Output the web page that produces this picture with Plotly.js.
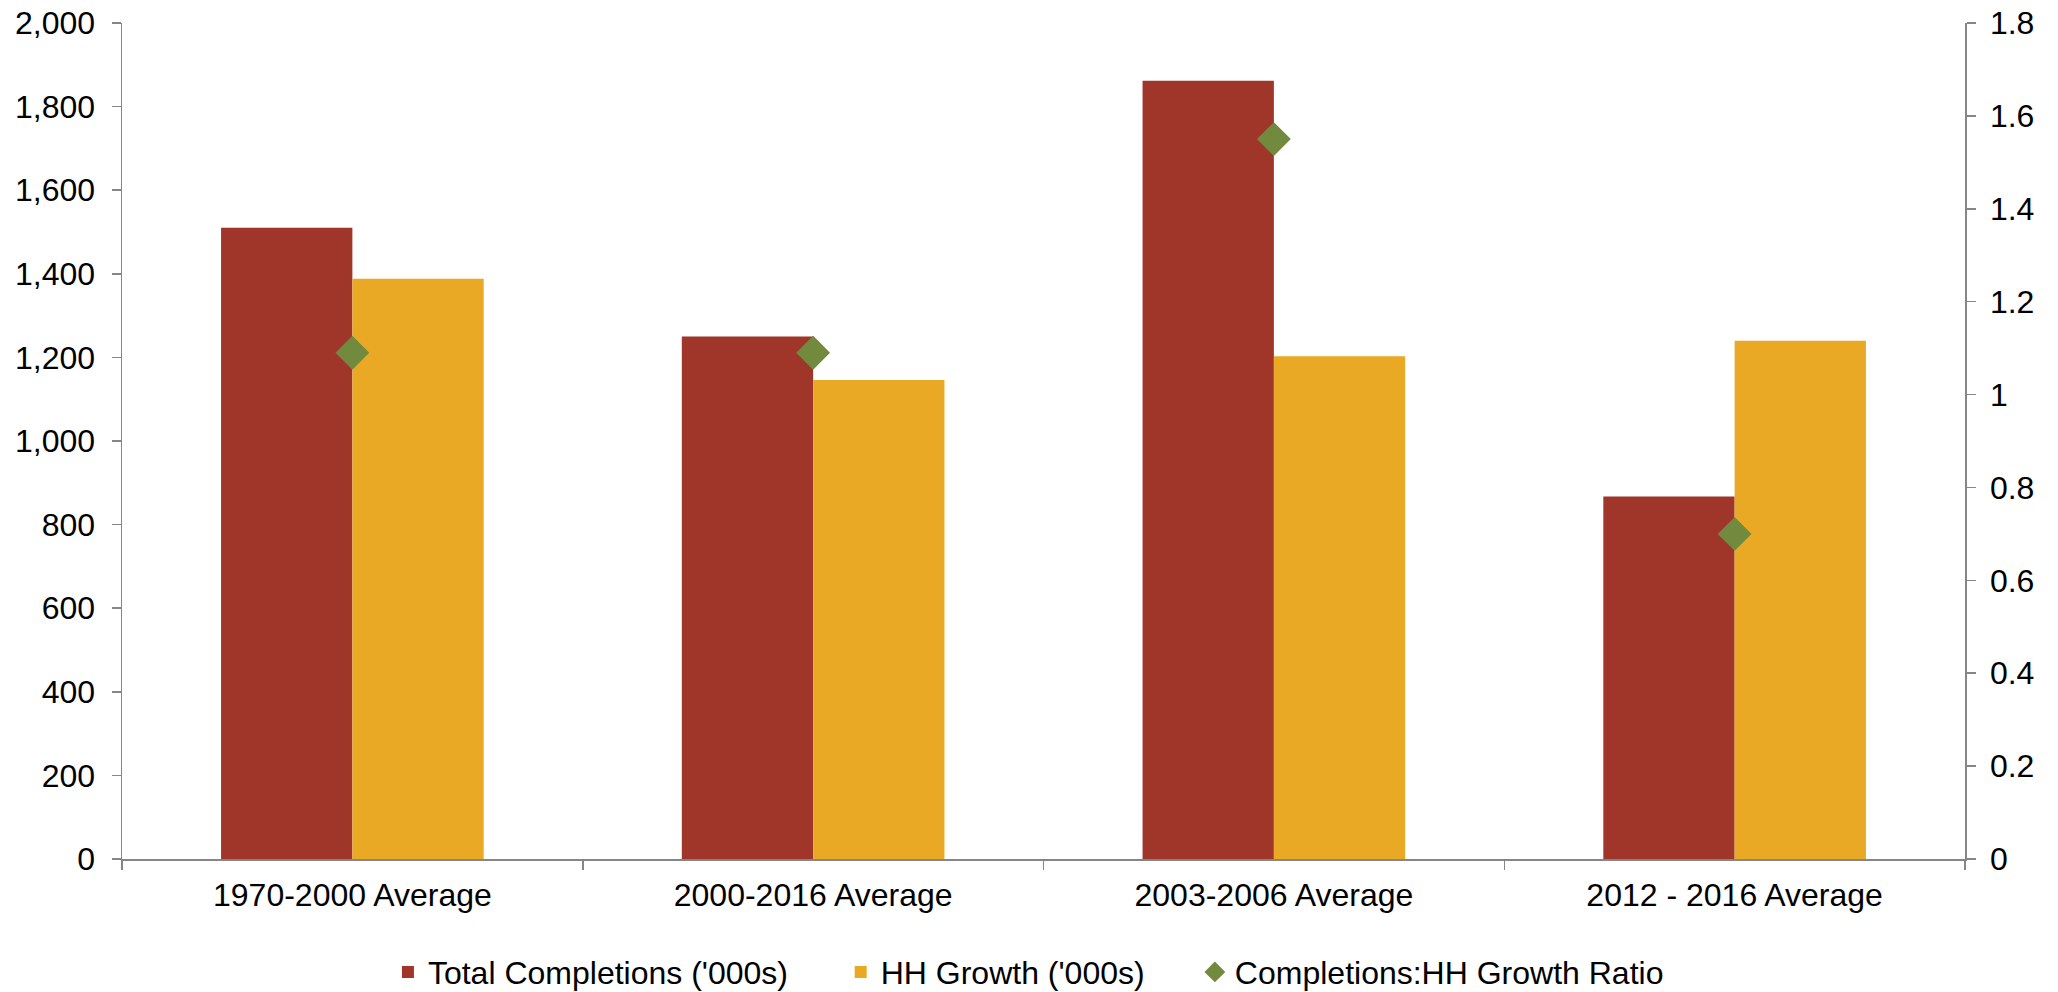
<!DOCTYPE html>
<html>
<head>
<meta charset="utf-8">
<script src="https://cdn.plot.ly/plotly-3.0.1.min.js"></script>
<style>
html,body{margin:0;padding:0;background:#fff;}
#chart{width:2058px;height:992px;}
</style>
</head>
<body>
<div id="chart"></div>
<script>
var categories = ["1970-2000 Average", "2000-2016 Average", "2003-2006 Average", "2012 - 2016 Average"];
var totalCompletions = [1510, 1250, 1862, 867];
var hhGrowth = [1388, 1146, 1203, 1240];
var ratio = [1.09, 1.09, 1.55, 0.70];
var seriesNames = ["Total Completions ('000s)", "HH Growth ('000s)", "Completions:HH Growth Ratio"];

var FONT = '"Liberation Sans", Arial, sans-serif';
var AXIS = '#868686';
var FS = 32;

var traces = [
  {type: 'bar', x: categories, y: totalCompletions, name: seriesNames[0],
   marker: {color: '#A0362A'}, legend: 'legend'},
  {type: 'bar', x: categories, y: hhGrowth, name: seriesNames[1],
   marker: {color: '#E9A924'}, legend: 'legend2'},
  {type: 'scatter', mode: 'markers', x: categories, y: ratio, name: seriesNames[2],
   yaxis: 'y2', marker: {symbol: 'diamond', size: 26, color: '#728A3E'}, legend: 'legend3'}
];

var legendBase = {orientation: 'h', xref: 'container', yref: 'container', yanchor: 'middle', xanchor: 'left',
  y: 0.02, font: {family: FONT, size: FS, color: '#000'}, bgcolor: 'rgba(0,0,0,0)', borderwidth: 0};

var layout = {
  width: 2058, height: 992,
  margin: {l: 122, r: 93, t: 23, b: 133, pad: 0},
  paper_bgcolor: '#fff', plot_bgcolor: '#fff',
  font: {family: FONT, size: FS, color: '#000'},
  barmode: 'group', bargap: 0.43, bargroupgap: 0,
  showlegend: true,
  legend: Object.assign({}, legendBase, {x: 0.1885}),
  legend2: Object.assign({}, legendBase, {x: 0.4085}),
  legend3: Object.assign({}, legendBase, {x: 0.5806}),
  xaxis: {type: 'category', range: [-0.5, 3.5], showline: true, linecolor: AXIS, linewidth: 1.5,
    ticks: 'outside', tickson: 'boundaries', ticklen: 9, tickcolor: AXIS, tickwidth: 1.5,
    showgrid: false, zeroline: false, tickfont: {family: FONT, size: FS, color: '#000'}, ticklabelstandoff: 7},
  yaxis: {range: [0, 2000], dtick: 200, tickformat: ',d', showline: true, linecolor: AXIS, linewidth: 1.5,
    ticks: 'outside', ticklen: 9, tickcolor: AXIS, tickwidth: 1.5, showgrid: false, zeroline: false,
    tickfont: {family: FONT, size: FS, color: '#000'}, ticklabelstandoff: 10},
  yaxis2: {overlaying: 'y', side: 'right', range: [0, 1.8], dtick: 0.2, showline: true, linecolor: AXIS, linewidth: 1.5,
    ticks: 'outside', ticklen: 9, tickcolor: AXIS, tickwidth: 1.5, showgrid: false, zeroline: false,
    tickfont: {family: FONT, size: FS, color: '#000'}, ticklabelstandoff: 8}
};

Plotly.newPlot('chart', traces, layout, {staticPlot: true, displayModeBar: false});
</script>
</body>
</html>
